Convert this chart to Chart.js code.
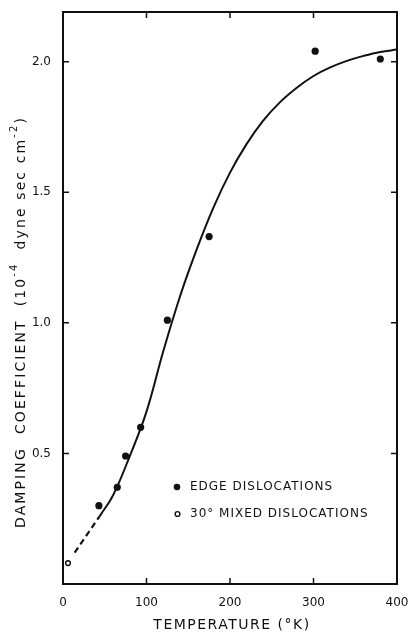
<!DOCTYPE html>
<html>
<head>
<meta charset="utf-8">
<script src="https://cdn.jsdelivr.net/npm/chart.js@4.4.1/dist/chart.umd.min.js"></script>
<style>
  html, body { margin: 0; padding: 0; background: #fff; }
  #wrap { width: 409px; height: 632px; }
</style>
</head>
<body>
<div id="wrap"><canvas id="chart"></canvas></div>
<script>
/* ---------- data ---------- */
const xTicks = [0, 100, 200, 300, 400];
const yTicks = [0.5, 1.0, 1.5, 2.0];

// edge dislocations (filled)
const edgeT = [43, 65, 75, 93, 125, 175, 302, 380];
const edgeD = [0.30, 0.37, 0.49, 0.60, 1.01, 1.33, 2.04, 2.01];

// 30° mixed dislocations (open)
const mixedT = [6];
const mixedD = [0.08];

// fitted curve (solid) and its extrapolation to low T (dashed)
const curveT = [44, 60, 80, 100, 120, 140, 160, 180, 200, 220, 240, 260, 280, 300, 320, 340, 360, 380, 400];
const curveD = [0.26, 0.34, 0.49, 0.66, 0.89, 1.10, 1.28, 1.44, 1.575, 1.685, 1.775, 1.845, 1.90, 1.945, 1.978, 2.003, 2.022, 2.037, 2.046];
const dashT = [14, 29, 44];
const dashD = [0.12, 0.19, 0.26];

const pts = (xs, ys) => xs.map((x, i) => ({ x, y: ys[i] }));

const FONT = "'DejaVu Sans', sans-serif";
const INK = '#111';

/* ---------- frame, inward ticks, titles, legend ---------- */
const decor = {
  id: 'decor',
  afterDraw(chart) {
    const { ctx, chartArea: a, scales: { x, y } } = chart;
    ctx.save();
    ctx.strokeStyle = INK;
    ctx.fillStyle = INK;

    // box
    ctx.lineWidth = 2;
    ctx.strokeRect(a.left, a.top, a.right - a.left, a.bottom - a.top);

    // inward ticks on all four sides
    ctx.lineWidth = 1.5;
    const TL = 6;
    ctx.beginPath();
    xTicks.forEach(v => {
      const px = x.getPixelForValue(v);
      ctx.moveTo(px, a.bottom); ctx.lineTo(px, a.bottom - TL);
      ctx.moveTo(px, a.top); ctx.lineTo(px, a.top + TL);
    });
    yTicks.forEach(v => {
      const py = y.getPixelForValue(v);
      ctx.moveTo(a.left, py); ctx.lineTo(a.left + TL, py);
      ctx.moveTo(a.right, py); ctx.lineTo(a.right - TL, py);
    });
    ctx.stroke();

    // x title
    ctx.font = '14px ' + FONT;
    ctx.letterSpacing = '1.5px';
    ctx.textAlign = 'center';
    ctx.textBaseline = 'middle';
    ctx.fillText('TEMPERATURE (°K)', (a.left + a.right) / 2 + 2, 625);

    // y title with superscripts
    const segs = [
      ['DAMPING  COEFFICIENT  (10', false],
      ['-4', true],
      ['  dyne sec cm', false],
      ['-2', true],
      [')', false]
    ];
    const big = '14px ' + FONT, small = '10px ' + FONT;
    ctx.letterSpacing = '2.1px';
    let total = 0;
    segs.forEach(([t, sup]) => { ctx.font = sup ? small : big; total += ctx.measureText(t).width; });
    ctx.translate(21, 322);
    ctx.rotate(-Math.PI / 2);
    ctx.textAlign = 'left';
    let cx = -total / 2;
    segs.forEach(([t, sup]) => {
      ctx.font = sup ? small : big;
      ctx.fillText(t, cx, sup ? -7 : 0);
      cx += ctx.measureText(t).width;
    });
    ctx.setTransform(1, 0, 0, 1, 0, 0);

    // legend
    ctx.font = '12px ' + FONT;
    ctx.letterSpacing = '1px';
    ctx.textAlign = 'left';
    ctx.beginPath();
    ctx.arc(177, 487, 3.3, 0, Math.PI * 2);
    ctx.fill();
    ctx.fillText('EDGE DISLOCATIONS', 190, 487);
    ctx.beginPath();
    ctx.lineWidth = 1.4;
    ctx.arc(177.5, 514, 2.4, 0, Math.PI * 2);
    ctx.stroke();
    ctx.fillText('30° MIXED DISLOCATIONS', 190, 514);

    ctx.restore();
  }
};

new Chart(document.getElementById('chart'), {
  type: 'scatter',
  data: {
    datasets: [
      {
        type: 'line',
        data: pts(curveT, curveD),
        borderColor: INK,
        borderWidth: 2,
        pointRadius: 0,
        tension: 0.4,
        fill: false
      },
      {
        type: 'line',
        data: pts(dashT, dashD),
        borderColor: INK,
        borderWidth: 2.2,
        borderDash: [6, 4],
        pointRadius: 0,
        fill: false
      },
      {
        data: pts(edgeT, edgeD),
        pointRadius: 3.6,
        pointBackgroundColor: INK,
        pointBorderColor: INK,
        pointBorderWidth: 0
      },
      {
        data: pts(mixedT, mixedD),
        pointRadius: 2.4,
        pointBackgroundColor: '#fff',
        pointBorderColor: INK,
        pointBorderWidth: 1.4
      }
    ]
  },
  options: {
    responsive: true,
    maintainAspectRatio: false,
    animation: false,
    layout: { padding: { top: 12, right: 12, left: 0, bottom: 0 } },
    plugins: { legend: { display: false }, tooltip: { enabled: false } },
    scales: {
      x: {
        type: 'linear',
        min: 0, max: 400,
        afterBuildTicks: s => { s.ticks = xTicks.map(v => ({ value: v })); },
        afterFit: s => { s.height = 48; s.paddingLeft = 0; s.paddingRight = 0; },
        grid: { display: false },
        border: { display: false },
        ticks: { color: INK, padding: 4, font: { family: FONT, size: 12 }, callback: v => String(v) }
      },
      y: {
        min: 0, max: 2.19,
        afterBuildTicks: s => { s.ticks = yTicks.map(v => ({ value: v })); },
        afterFit: s => { s.width = 63; s.paddingTop = 0; s.paddingBottom = 0; },
        grid: { display: false },
        border: { display: false },
        ticks: { color: INK, padding: 4, font: { family: FONT, size: 12 }, callback: v => v.toFixed(1) }
      }
    }
  },
  plugins: [decor]
});
</script>
</body>
</html>
